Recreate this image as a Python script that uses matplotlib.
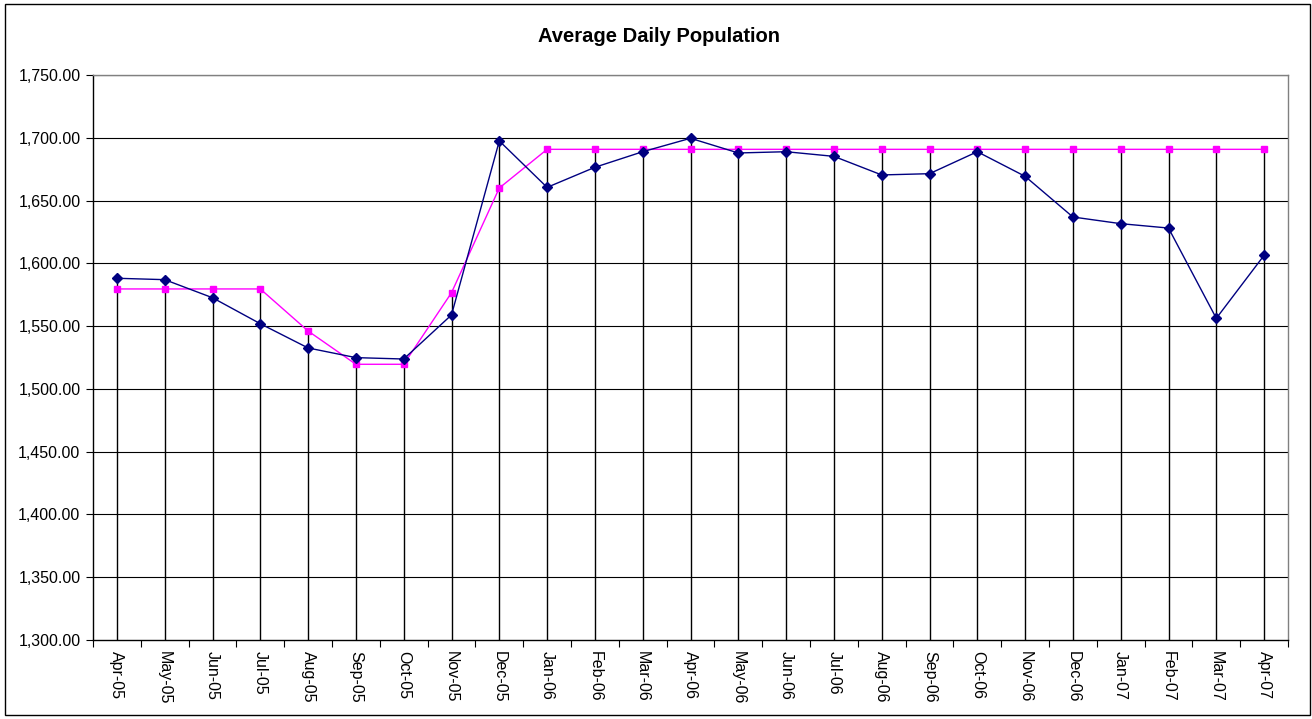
import matplotlib
matplotlib.use('Agg')
import matplotlib.pyplot as plt
import numpy as np

months = ['Apr-05', 'May-05', 'Jun-05', 'Jul-05', 'Aug-05', 'Sep-05', 'Oct-05',
          'Nov-05', 'Dec-05', 'Jan-06', 'Feb-06', 'Mar-06', 'Apr-06', 'May-06',
          'Jun-06', 'Jul-06', 'Aug-06', 'Sep-06', 'Oct-06', 'Nov-06', 'Dec-06',
          'Jan-07', 'Feb-07', 'Mar-07', 'Apr-07']
actual = [1588.1, 1587.0, 1572.6, 1551.9, 1532.6, 1524.9, 1523.8, 1558.9,
          1697.5, 1660.5, 1676.5, 1688.9, 1699.6, 1687.9, 1688.9, 1685.2,
          1670.4, 1671.4, 1688.9, 1669.3, 1636.9, 1631.6, 1628.1, 1556.2, 1606.4]
target = [1579.6, 1579.6, 1579.6, 1579.6, 1546.1, 1519.6, 1519.6, 1576.6,
          1660.0, 1690.8, 1690.8, 1690.8, 1690.8, 1690.8, 1690.8, 1690.8,
          1690.8, 1690.8, 1690.8, 1690.8, 1690.8, 1690.8, 1690.8, 1690.8, 1690.8]
yticks = [1300, 1350, 1400, 1450, 1500, 1550, 1600, 1650, 1700, 1750]

plt.rcParams['font.family'] = ['Liberation Sans', 'DejaVu Sans']

fig = plt.figure(figsize=(13.12, 7.19), dpi=100)
ax = fig.add_axes([93 / 1312, 1 - 640 / 719, (1288 - 93) / 1312, (640 - 75) / 719])

x = np.arange(len(months))

# horizontal gridlines
for v in yticks[1:]:
    ax.axhline(v, color='black', lw=0.8, zorder=1)

# drop lines from the highest point down to the axis
top = np.maximum(actual, target)
ax.vlines(x, yticks[0], top, color='black', lw=1.0, zorder=2)

ax.plot(x, actual, color='#000080', lw=1.0, marker='D', ms=5,
        mfc='#000080', mec='#000080', zorder=4)
ax.plot(x, target, color='#FF00FF', lw=1.0, marker='s', ms=5,
        mfc='#FF00FF', mec='#FF00FF', zorder=3)

ax.set_xlim(-0.5, len(months) - 0.5)
ax.set_ylim(yticks[0], yticks[-1])
ax.set_yticks(yticks)
ax.set_yticklabels(['{:,.2f}'.format(v) for v in yticks], fontsize=11.5)

ax.set_xticks(np.arange(len(months) + 1) - 0.5)
ax.set_xticklabels([])
ax.set_xticks(x, minor=True)
ax.set_xticklabels(months, minor=True, rotation=270, fontsize=11.5)
ax.tick_params(axis='x', which='minor', length=0, pad=8)
ax.tick_params(axis='x', which='major', length=5, direction='out', color='black')
ax.tick_params(axis='y', length=5, direction='out', color='black', pad=4)

for s in ['left', 'bottom']:
    ax.spines[s].set_color('black')
    ax.spines[s].set_linewidth(1.0)
for s in ['top', 'right']:
    ax.spines[s].set_color('#808080')
    ax.spines[s].set_linewidth(1.0)

fig.text(659 / 1312, 1 - 37 / 719, 'Average Daily Population',
         ha='center', va='center', fontsize=14.5, fontweight='bold')

# outer chart border
border = plt.Rectangle((5 / 1312, 1 - 715 / 719), 1305 / 1312, 711 / 719,
                       transform=fig.transFigure, fill=False,
                       edgecolor='black', lw=1.0)
fig.patches.append(border)

fig.savefig('out.png', dpi=100)
